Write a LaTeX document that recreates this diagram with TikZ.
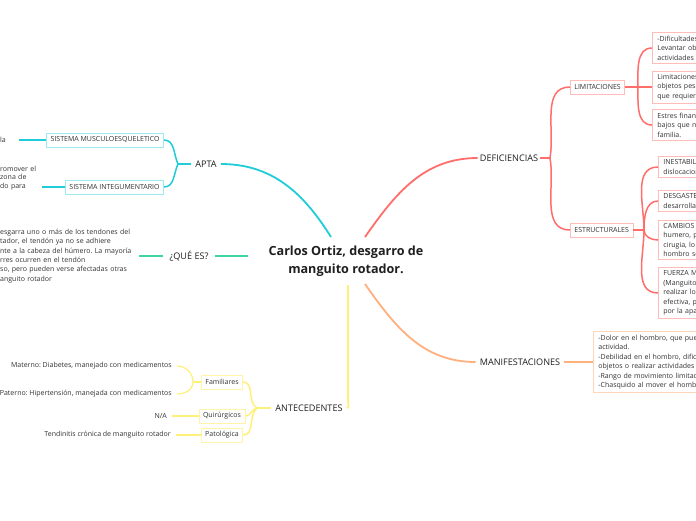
\documentclass[tikz,border=0pt]{standalone}
\usepackage{fontspec}
\setmainfont{Open Sans}
\usepackage{xcolor}
\usetikzlibrary{positioning}
\definecolor{aptaline}{HTML}{1FCCD8}
\definecolor{aptabox}{HTML}{9CEBF0}
\definecolor{queesline}{HTML}{3ED6A2}
\definecolor{deficline}{HTML}{FF6E6B}
\definecolor{deficbox}{HTML}{FFBDBA}
\definecolor{manifline}{HTML}{FFB07E}
\definecolor{manifbox}{HTML}{FFD6BA}
\definecolor{antecline}{HTML}{FFF07A}
\definecolor{antecbox}{HTML}{FFF4AA}
\frenchspacing

\begin{document}
\begin{tikzpicture}[
                x=1pt, y=-1pt,
                title/.style={font=\fontsize{12.6}{18}\selectfont\bfseries, align=center, text=black!88},
                topic/.style={font=\fontsize{9.1}{10}\selectfont, inner xsep=4pt, inner ysep=2pt, text=black!88},
                subbox/.style={draw, fill=white, line width=0.8pt, font=\fontsize{7}{8}\selectfont, inner xsep=4pt, inner ysep=2pt, minimum height=14pt, text=black!80},
                textbox/.style={draw, fill=white, line width=0.8pt, font=\fontsize{7}{9.5}\selectfont, inner xsep=5pt, inner ysep=3pt, align=left, anchor=west, text width=#1, text=black!80},
                leaf/.style={font=\fontsize{7}{9.4}\selectfont, inner sep=2pt, align=left, text=black!80},
                leafr/.style={font=\fontsize{7}{9.4}\selectfont, inner xsep=5pt, inner ysep=2pt, anchor=east, text=black!80},
                mainline/.style={line width=1.8pt},
                subline/.style={line width=1.5pt},
                leafline/.style={line width=1.2pt}
            ]

\path[use as bounding box, fill=white] (0,0) rectangle (696,520);

\node[title] (root) at (346,261) {Carlos Ortiz, desgarro de\\manguito rotador.};
            \coordinate (root-nw) at (331,237);
            \coordinate (root-ne) at (365,237);
            \coordinate (root-w) at (248,256);
            \coordinate (root-sw) at (348,285);
            \coordinate (root-se) at (365,284);
            \coordinate (antec-bend) at (348,400);

\node[topic] (apta) at (206,164) {APTA};
            \node[topic, inner xsep=6pt] (quees) at (189,256) {¿QUÉ ES?};
            \node[topic] (antec) at (309,408) {ANTECEDENTES};
            \node[topic, inner xsep=2pt] (defic) at (509,158) {DEFICIENCIAS};
            \node[topic, inner xsep=4pt] (manif) at (520,362) {MANIFESTACIONES};

\draw[mainline, aptaline] (root-nw) to[out=122, in=0] (apta.east);
            \draw[mainline, deficline] (root-ne) to[out=55, in=180] (defic.west);
            \draw[mainline, queesline] (root-w) -- (quees.east);
            \draw[mainline, antecline] (root-sw) -- (antec-bend) to[out=-90, in=0] (antec.east);
            \draw[mainline, manifline] (root-se) to[out=-55, in=180] (manif.west);

% apta
            \node[subbox, draw=aptabox, anchor=east] (musc) at (164,140) {SISTEMA MUSCULOESQUELETICO};
            \node[subbox, draw=aptabox, anchor=east] (integ) at (164,187) {SISTEMA INTEGUMENTARIO};
            \node[leaf, anchor=west, text width=17pt] (musc-text) at (-2,140) {la};
            \node[leaf, anchor=west, text width=40pt, font=\fontsize{7}{8.6}\selectfont] (integ-text) at (-2,178) {romover el\\zona de\\do para};
            \coordinate (apta-hub) at (178,164);
            \draw[subline, aptaline] (apta.west) -- (apta-hub);
            \draw[subline, aptaline] (apta-hub) to[out=115, in=0] (musc.east);
            \draw[subline, aptaline] (apta-hub) to[out=-115, in=0] (integ.east);
            \draw[leafline, aptaline] (musc.west) -- (musc-text.east);
            \draw[leafline, aptaline] (integ.west) -- (integ.west -| integ-text.east);

% que es
            \node[leaf, anchor=west, text width=137pt] (quees-text) at (-2,256) {esgarra uno o más de los tendones del\\tador, el tendón ya no se adhiere\\nte a la cabeza del húmero. La mayoría\\rres ocurren en el tendón\\so, pero pueden verse afectadas otras\\anguito rotador};
            \draw[subline, queesline] (quees.west) -- (quees-text.east);

% antecedentes
            \node[subbox, draw=antecbox] (famil) at (222,382) {Familiares};
            \node[subbox, draw=antecbox] (quirur) at (222,416) {Quirúrgicos};
            \node[subbox, draw=antecbox] (patol) at (222,435) {Patológica};
            \node[leafr] (materno) at (177,366) {Materno: Diabetes, manejado con medicamentos};
            \node[leafr] (paterno) at (177,394) {Paterno: Hipertensión, manejada con medicamentos};
            \node[leafr] (na) at (172,416) {N/A};
            \node[leafr] (tendin) at (176,435) {Tendinitis crónica de manguito rotador};
            \coordinate (antec-hub) at (257,408);
            \coordinate (famil-hub) at (193,382);
            \draw[subline, antecline] (antec.west) -- (antec-hub);
            \draw[subline, antecline] (antec-hub) to[out=150, in=0] (famil.east);
            \draw[subline, antecline] (antec-hub) to[out=-170, in=0] (quirur.east);
            \draw[subline, antecline] (antec-hub) to[out=-140, in=0] (patol.east);
            \draw[leafline, antecline] (famil.west) -- (famil-hub);
            \draw[leafline, antecline] (famil-hub) to[out=90, in=0] (materno.east);
            \draw[leafline, antecline] (famil-hub) to[out=-90, in=0] (paterno.east);
            \draw[leafline, antecline] (quirur.west) -- (na.east);
            \draw[leafline, antecline] (patol.west) -- (tendin.east);

% deficiencias
            \node[subbox, draw=deficbox, anchor=west] (limit) at (570,87) {LIMITACIONES};
            \node[subbox, draw=deficbox, anchor=west] (estruc) at (570,230) {ESTRUCTURALES};
            \coordinate (defic-hub) at (550,158);
            \draw[subline, deficline] (defic.east) -- (defic-hub);
            \draw[subline, deficline] (defic-hub) to[out=80, in=180] (limit.west);
            \draw[subline, deficline] (defic-hub) to[out=-80, in=180] (estruc.west);

\node[textbox=80pt, draw=deficbox] (limit-a) at (652,48) {-Dificultades\\Levantar obj\\actividades};
            \node[textbox=80pt, draw=deficbox] (limit-b) at (652,87) {Limitaciones\\objetos pesa\\que requiera};
            \node[textbox=80pt, draw=deficbox] (limit-c) at (652,125) {Estres finan\\bajos que ne\\familia.};
            \coordinate (limit-hub) at (638,87);
            \draw[subline, deficline] (limit.east) -- (limit-hub);
            \draw[subline, deficline] (limit-hub) to[out=90, in=180] (limit-a.west);
            \draw[subline, deficline] (limit-hub) -- (limit-b.west);
            \draw[subline, deficline] (limit-hub) to[out=-90, in=180] (limit-c.west);

\node[textbox=80pt, draw=deficbox] (estruc-a) at (658,167) {INESTABIL\\dislocacion};
            \node[textbox=80pt, draw=deficbox] (estruc-b) at (658,201) {DESGASTE\\desarrolla};
            \node[textbox=80pt, draw=deficbox] (estruc-c) at (658,240) {CAMBIOS\\humero, p\\cirugia, lo\\hombro se};
            \node[textbox=80pt, draw=deficbox] (estruc-d) at (658,293) {FUERZA M\\(Manguito\\realizar los\\efectiva, p\\por la apa};
            \coordinate (estruc-hub) at (644,230);
            \draw[subline, deficline] (estruc.east) -- (estruc-hub);
            \draw[subline, deficline] (estruc-hub) to[out=90, in=180] (estruc-a.west);
            \draw[subline, deficline] (estruc-hub) to[out=90, in=180] (estruc-b.west);
            \draw[subline, deficline] (estruc-hub) to[out=-90, in=180] (estruc-c.west);
            \draw[subline, deficline] (estruc-hub) to[out=-90, in=180] (estruc-d.west);

% manifestaciones
            \node[textbox=130pt, draw=manifbox] (manif-text) at (593,362) {-Dolor en el hombro, que pue\\actividad.\\-Debilidad en el hombro, dific\\objetos o realizar actividades\\-Rango de movimiento limitac\\-Chasquido al mover el hombr};
            \draw[subline, manifline] (manif.east) -- (manif-text.west);

            \end{tikzpicture}
\end{document}
